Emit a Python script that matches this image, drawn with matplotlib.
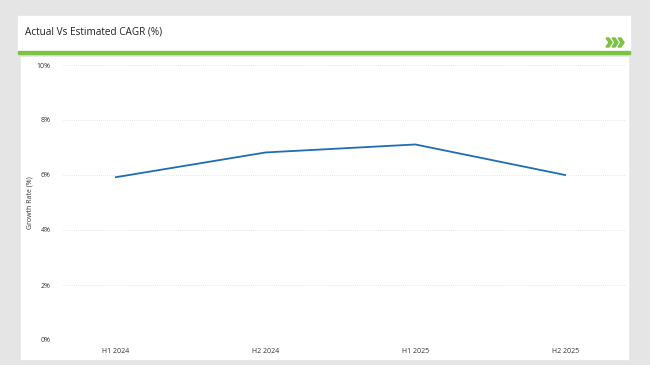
import matplotlib.pyplot as plt
from matplotlib.patches import Rectangle, Polygon
from matplotlib.ticker import FuncFormatter

periods = ["H1 2024", "H2 2024", "H1 2025", "H2 2025"]
growth = [5.92, 6.82, 7.11, 6.0]
yticks = [0, 2, 4, 6, 8, 10]

plt.rcParams["font.family"] = ["Open Sans", "DejaVu Sans"]

W, H = 650, 365
fig = plt.figure(figsize=(6.5, 3.65), dpi=100)
fig.patch.set_facecolor("#e5e5e5")

def px(x, y, w, h):
    # pixel box (top-left origin) -> figure fraction
    return (x / W, 1 - (y + h) / H, w / W, h / H)

def box(x, y, w, h, color, z=0):
    l, b, fw, fh = px(x, y, w, h)
    fig.patches.append(Rectangle((l, b), fw, fh, transform=fig.transFigure,
                                 color=color, zorder=z))

# title card and plot panel
box(18, 16, 612, 36, "white")
box(18, 51, 612, 2.5, "#7dc242", 1)
box(21, 57, 607, 302, "white")

fig.text(25 / W, 1 - 32 / H, "Actual Vs Estimated CAGR (%)", fontsize=7.2,
         color="#222222", va="center", ha="left")

# green chevrons
for i in range(3):
    x0 = 606 + i * 6
    pts = [(x0, 38), (x0 + 3, 38), (x0 + 6, 42.5), (x0 + 3, 47), (x0, 47), (x0 + 3, 42.5)]
    fig.patches.append(Polygon([(x / W, 1 - y / H) for x, y in pts], closed=True,
                               transform=fig.transFigure, color="#7dc242", zorder=2))

ax = fig.add_axes(px(63, 65, 562, 275))
ax.set_zorder(5)
ax.set_facecolor("none")
ax.plot(range(len(periods)), growth, color="#1f6db3", linewidth=1.3)

ax.set_xlim(-0.353, 3.4)
ax.set_ylim(0, 10)
ax.set_xticks(range(len(periods)))
ax.set_xticklabels(periods)
ax.set_yticks(yticks)
ax.yaxis.set_major_formatter(FuncFormatter(lambda v, p: f"{v:.0f}%"))
ax.tick_params(axis="both", length=0, labelsize=5, colors="#333333")
ax.tick_params(axis="x", pad=6)
ax.tick_params(axis="y", pad=9)
ax.grid(axis="y", linestyle=(0, (1, 1.5)), color="#dddddd", linewidth=0.6)
for s in ax.spines.values():
    s.set_visible(False)
ax.set_ylabel("Growth Rate (%)", fontsize=5, color="#333333", labelpad=2)

fig.savefig("out.png", dpi=100, facecolor=fig.get_facecolor())
